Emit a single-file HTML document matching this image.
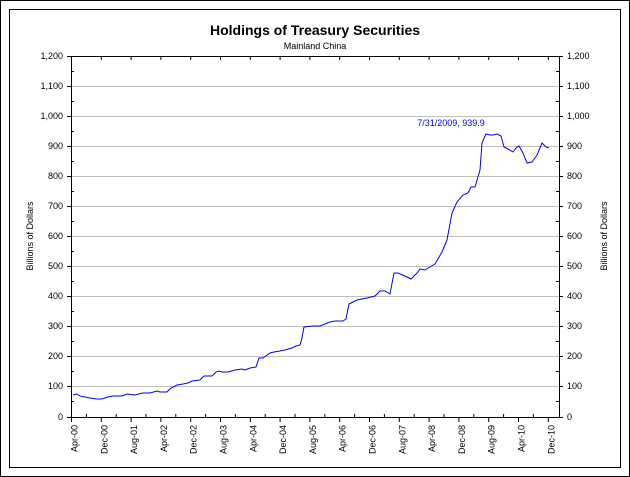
<!DOCTYPE html>
<html><head><style>body{margin:0;background:#fff}svg{display:block}text{font-family:"Liberation Sans",Arial,sans-serif}</style></head><body>
<svg width="630" height="477" viewBox="0 0 630 477" xmlns="http://www.w3.org/2000/svg">
<rect x="0.5" y="0.5" width="629" height="476" fill="#fff" stroke="#000"/>
<rect x="9.5" y="9.5" width="611" height="458" fill="none" stroke="#000"/>
<text x="315" y="35" text-anchor="middle" font-size="14" font-weight="bold">Holdings of Treasury Securities</text>
<text x="315" y="49" text-anchor="middle" font-size="9">Mainland China</text>
<g stroke="#c0c0c0" stroke-width="1">
<line x1="71" x2="559" y1="86.5" y2="86.5"/><line x1="71" x2="559" y1="116.5" y2="116.5"/><line x1="71" x2="559" y1="146.5" y2="146.5"/><line x1="71" x2="559" y1="176.5" y2="176.5"/><line x1="71" x2="559" y1="206.5" y2="206.5"/><line x1="71" x2="559" y1="236.5" y2="236.5"/><line x1="71" x2="559" y1="266.5" y2="266.5"/><line x1="71" x2="559" y1="296.5" y2="296.5"/><line x1="71" x2="559" y1="326.5" y2="326.5"/><line x1="71" x2="559" y1="356.5" y2="356.5"/><line x1="71" x2="559" y1="386.5" y2="386.5"/>
</g>
<g stroke="#000" stroke-width="1" fill="none">
<path d="M71.5 56.5V417.5H559.5V56.5H71.5"/>
<path d="M67 56.5h4M67 86.5h4M67 116.5h4M67 146.5h4M67 176.5h4M67 206.5h4M67 236.5h4M67 266.5h4M67 296.5h4M67 326.5h4M67 356.5h4M67 386.5h4M67 417.5h4M71 71.5h3M71 101.5h3M71 131.5h3M71 161.5h3M71 191.5h3M71 221.5h3M71 251.5h3M71 281.5h3M71 311.5h3M71 341.5h3M71 371.5h3M71 401.5h3"/>
<path d="M559 56.5h4M559 86.5h4M559 116.5h4M559 146.5h4M559 176.5h4M559 206.5h4M559 236.5h4M559 266.5h4M559 296.5h4M559 326.5h4M559 356.5h4M559 386.5h4M559 417.5h4M556 71.5h3M556 101.5h3M556 131.5h3M556 161.5h3M556 191.5h3M556 221.5h3M556 251.5h3M556 281.5h3M556 311.5h3M556 341.5h3M556 371.5h3M556 401.5h3"/>
<path d="M71.5 417v5M101.3 417v5M131.1 417v5M160.9 417v5M190.7 417v5M220.5 417v5M250.3 417v5M280.1 417v5M309.9 417v5M339.7 417v5M369.5 417v5M399.3 417v5M429.1 417v5M458.9 417v5M488.7 417v5M518.5 417v5M548.3 417v5M86.4 417v-3M116.2 417v-3M146 417v-3M175.8 417v-3M205.6 417v-3M235.4 417v-3M265.2 417v-3M295 417v-3M324.8 417v-3M354.6 417v-3M384.4 417v-3M414.2 417v-3M444 417v-3M473.8 417v-3M503.6 417v-3M533.4 417v-3"/>
<path d="M71.5 56v4M101.3 56v4M131.1 56v4M160.9 56v4M190.7 56v4M220.5 56v4M250.3 56v4M280.1 56v4M309.9 56v4M339.7 56v4M369.5 56v4M399.3 56v4M429.1 56v4M458.9 56v4M488.7 56v4M518.5 56v4M548.3 56v4"/>
</g>
<g font-size="9" text-anchor="end">
<text x="63" y="59">1,200</text><text x="63" y="89">1,100</text><text x="63" y="119">1,000</text><text x="63" y="149">900</text><text x="63" y="179">800</text><text x="63" y="209">700</text><text x="63" y="239">600</text><text x="63" y="269">500</text><text x="63" y="299">400</text><text x="63" y="329">300</text><text x="63" y="359">200</text><text x="63" y="389">100</text><text x="63" y="420">0</text>
</g>
<g font-size="9" text-anchor="start">
<text x="567" y="59">1,200</text><text x="567" y="89">1,100</text><text x="567" y="119">1,000</text><text x="567" y="149">900</text><text x="567" y="179">800</text><text x="567" y="209">700</text><text x="567" y="239">600</text><text x="567" y="269">500</text><text x="567" y="299">400</text><text x="567" y="329">300</text><text x="567" y="359">200</text><text x="567" y="389">100</text><text x="567" y="420">0</text>
</g>
<text transform="translate(33,236) rotate(-90)" font-size="9" text-anchor="middle">Billions of Dollars</text>
<text transform="translate(607,236) rotate(-90)" font-size="9" text-anchor="middle">Billions of Dollars</text>
<g font-size="9" text-anchor="end">
<text transform="translate(77.5,425) rotate(-90)">Apr-00</text>
<text transform="translate(107.3,425) rotate(-90)">Dec-00</text>
<text transform="translate(137.1,425) rotate(-90)">Aug-01</text>
<text transform="translate(166.9,425) rotate(-90)">Apr-02</text>
<text transform="translate(196.7,425) rotate(-90)">Dec-02</text>
<text transform="translate(226.5,425) rotate(-90)">Aug-03</text>
<text transform="translate(256.3,425) rotate(-90)">Apr-04</text>
<text transform="translate(286.1,425) rotate(-90)">Dec-04</text>
<text transform="translate(315.9,425) rotate(-90)">Aug-05</text>
<text transform="translate(345.7,425) rotate(-90)">Apr-06</text>
<text transform="translate(375.5,425) rotate(-90)">Dec-06</text>
<text transform="translate(405.3,425) rotate(-90)">Aug-07</text>
<text transform="translate(435.1,425) rotate(-90)">Apr-08</text>
<text transform="translate(464.9,425) rotate(-90)">Dec-08</text>
<text transform="translate(494.7,425) rotate(-90)">Aug-09</text>
<text transform="translate(524.5,425) rotate(-90)">Apr-10</text>
<text transform="translate(554.3,425) rotate(-90)">Dec-10</text>
</g>
<polyline fill="none" stroke="#0000ff" stroke-width="1" points="73,395 77,394 80,396 85,397 90,398 97,399 102,399 108,397 113,396 122,396 127,394 135,395 143,393 150,393 157,391 160,392 167,392 171,388 177,385 183,384 188,383 192,381 200,380 204,376 212,376 216,372 219,371 222,372 228,372 235,370 242,369 245,370 250,368 256,367 259,358 263,358 270,353 274,352 280,351 285,350 292,348 296,346 300,345 302,338 304,327 313,326 320,326 330,322 335,321 343,321 346,319 349,304 357,300 367,298 375,296 380,291 385,291 390,294 394,273 398,273 407,277 411,279 417,273 420,269 425,270 430,267 435,264 442,252 447,240 452,213 457,202 463,195 468,193 471,187 475,187 478,177 480,170 482,143 486,134 490,135 493,135 497,134 501,136 504,147 508,149 513,152 516,148 519,146 523,153 527,163 532,162 537,155 542,143 546,147 549,148"/>
<text x="451" y="126" font-size="9" fill="#0000ff" text-anchor="middle">7/31/2009, 939.9</text>
</svg>
</body></html>
